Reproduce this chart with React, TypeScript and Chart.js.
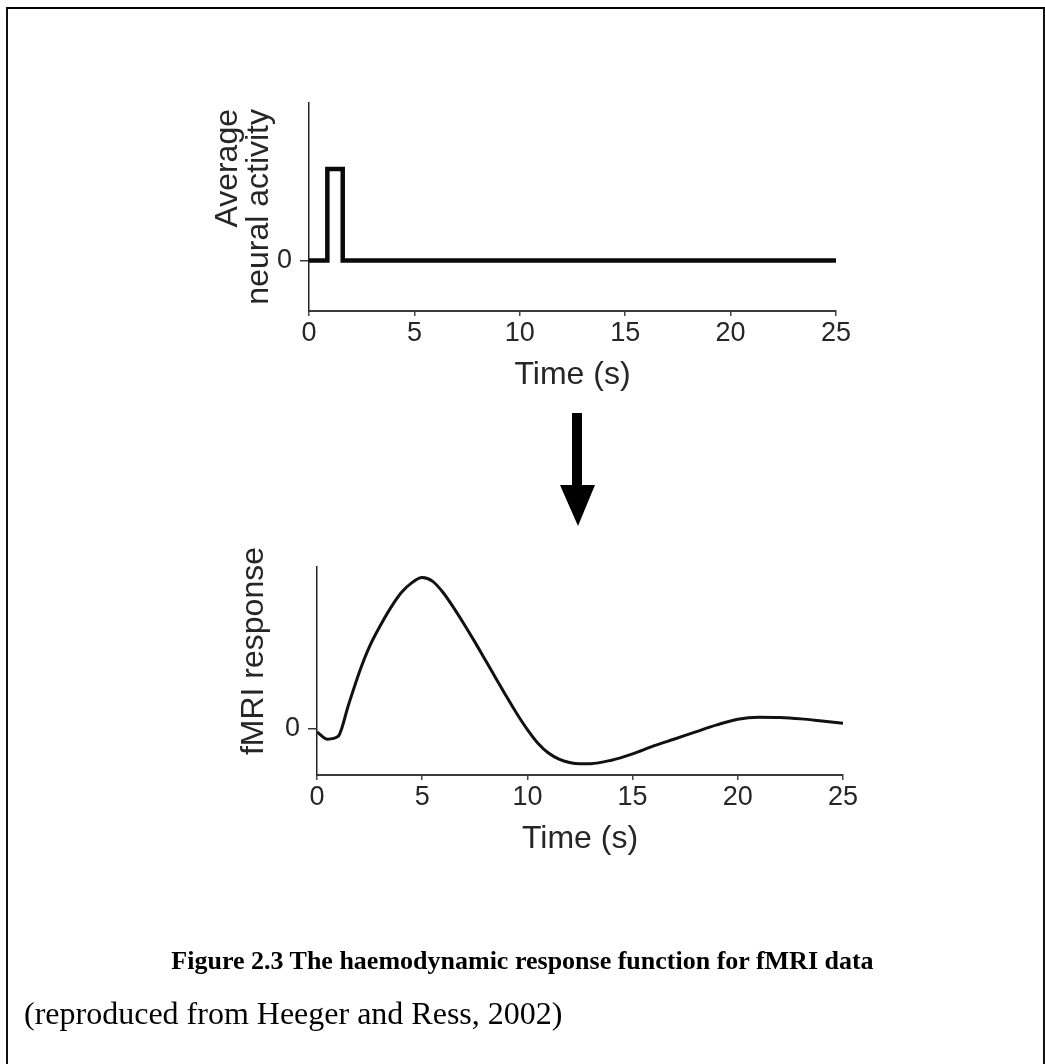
import React, { useEffect, useRef } from "react";
import { Chart, registerables } from "chart.js";

Chart.register(...registerables);

// ---------- data ----------
const timeTicks = [0, 5, 10, 15, 20, 25];
const zeroTick = [0];

// top panel: brief neural activity pulse (time in s, activity in arbitrary units)
const neuralTimes = [0, 0.87, 0.87, 1.6, 1.6, 25];
const neuralActivity = [0, 0, 1, 1, 0, 0];

// bottom panel: haemodynamic (fMRI) response, peak normalised to 1
const hrfTimes = [
  0, 0.5, 1.0, 1.5, 2.0, 2.5, 3.0, 3.5, 4.0, 4.5, 5.0, 5.5, 6.0, 6.5, 7.0, 7.5,
  8.0, 8.5, 9.0, 9.5, 10.0, 10.5, 11.0, 11.5, 12.0, 12.5, 13.0, 14.0, 15.0,
  16.0, 17.0, 18.0, 19.0, 20.0, 21.0, 22.0, 23.0, 24.0, 25.0,
];
const hrfValues = [
  -0.02, -0.068, -0.05, 0.16, 0.37, 0.545, 0.68, 0.8, 0.9, 0.965, 1.0, 0.975,
  0.9, 0.8, 0.69, 0.575, 0.455, 0.335, 0.215, 0.1, -0.005, -0.095, -0.16, -0.2,
  -0.222, -0.23, -0.23, -0.207, -0.165, -0.113, -0.067, -0.02, 0.026, 0.064,
  0.077, 0.075, 0.066, 0.052, 0.037,
];

const topYTitle = ["Average", "neural activity"];
const bottomYTitle = ["fMRI response"];
const xTitle = "Time (s)";
const captionText = "Figure 2.3 The haemodynamic response function for fMRI data";
const citationText = "(reproduced from Heeger and Ress, 2002)";

// ---------- styling ----------
const FONT = '"Liberation Sans", Arial, Helvetica, sans-serif';
const INK = "#262626";

type Area = { left: number; top: number; right: number; bottom: number };

function makeYTitlePlugin(lines: string[], baselines: number[], endOffset: number) {
  return {
    id: "yTitleRotated",
    afterDraw(chart: any) {
      const { ctx, chartArea } = chart;
      ctx.save();
      ctx.font = `32px ${FONT}`;
      ctx.fillStyle = INK;
      ctx.textAlign = "right";
      ctx.textBaseline = "alphabetic";
      lines.forEach((line, i) => {
        ctx.save();
        ctx.translate(baselines[i], chartArea.top + endOffset);
        ctx.rotate(-Math.PI / 2);
        ctx.fillText(line, 0, 0);
        ctx.restore();
      });
      ctx.restore();
    },
  };
}

function buildConfig(opts: {
  times: number[];
  values: number[];
  lineWidth: number;
  color: string;
  smooth: boolean;
  yMin: number;
  yMax: number;
  area: Area;
  width: number;
  height: number;
  titleCenterGap: number;
  plugin: any;
}) {
  const { area, width, height } = opts;
  const titleLine = 32 * 1.2;
  const titlePadBottom = height - (area.bottom + opts.titleCenterGap) - titleLine / 2;
  return {
    type: "line",
    data: {
      datasets: [
        {
          data: opts.times.map((t, i) => ({ x: t, y: opts.values[i] })),
          borderColor: opts.color,
          borderWidth: opts.lineWidth,
          pointRadius: 0,
          pointHoverRadius: 0,
          fill: false,
          tension: opts.smooth ? 0.4 : 0,
          cubicInterpolationMode: opts.smooth ? "monotone" : "default",
          borderJoinStyle: opts.smooth ? "round" : "miter",
          borderCapStyle: "butt",
        },
      ],
    },
    options: {
      responsive: false,
      animation: false,
      events: [],
      layout: {
        padding: { left: 0, top: area.top, right: width - area.right, bottom: 0 },
      },
      plugins: {
        legend: { display: false },
        tooltip: { enabled: false },
        title: { display: false },
      },
      scales: {
        x: {
          type: "linear",
          min: 0,
          max: 25,
          afterFit: (scale: any) => {
            scale.height = height - area.bottom;
          },
          afterBuildTicks: (scale: any) => {
            scale.ticks = timeTicks.map((v) => ({ value: v }));
          },
          grid: {
            drawOnChartArea: false,
            drawTicks: true,
            tickLength: 5,
            color: "#444",
            lineWidth: 1.5,
          },
          border: { display: true, color: "#3a3a3a", width: 2 },
          ticks: {
            padding: 1,
            color: INK,
            font: { family: FONT, size: 27 },
            maxRotation: 0,
            autoSkip: false,
          },
          title: {
            display: true,
            text: xTitle,
            color: INK,
            font: { family: FONT, size: 32 },
            padding: { top: 0, bottom: titlePadBottom },
          },
        },
        y: {
          type: "linear",
          min: opts.yMin,
          max: opts.yMax,
          afterFit: (scale: any) => {
            scale.width = area.left;
          },
          afterBuildTicks: (scale: any) => {
            scale.ticks = zeroTick.map((v) => ({ value: v }));
          },
          grid: {
            drawOnChartArea: false,
            drawTicks: true,
            tickLength: 9,
            color: "#333",
            lineWidth: 1.5,
          },
          border: { display: true, color: "#222", width: 1.5 },
          ticks: {
            padding: 8,
            color: INK,
            font: { family: FONT, size: 27 },
            autoSkip: false,
          },
          title: { display: false },
        },
      },
    },
    plugins: [opts.plugin],
  };
}

function Panel(props: { top: number; height: number; config: any }) {
  const ref = useRef<HTMLCanvasElement | null>(null);
  useEffect(() => {
    if (!ref.current) return;
    const chart = new Chart(ref.current, props.config);
    return () => chart.destroy();
  }, []);
  return (
    <canvas
      ref={ref}
      width={1045}
      height={props.height}
      style={{
        position: "absolute",
        left: 0,
        top: props.top,
        width: 1045,
        height: props.height,
      }}
    />
  );
}

export default function App() {
  const topCfg = buildConfig({
    times: neuralTimes,
    values: neuralActivity,
    lineWidth: 4.5,
    color: "#0a0a0a",
    smooth: false,
    yMin: -0.55,
    yMax: 1.72,
    area: { left: 309, top: 103, right: 836, bottom: 311 },
    width: 1045,
    height: 420,
    titleCenterGap: 64,
    plugin: makeYTitlePlugin(topYTitle, [237, 268], 6),
  });
  const bottomCfg = buildConfig({
    times: hrfTimes,
    values: hrfValues,
    lineWidth: 3,
    color: "#111",
    smooth: true,
    yMin: -0.305,
    yMax: 1.07,
    area: { left: 317, top: 97, right: 843, bottom: 305 },
    width: 1045,
    height: 450,
    titleCenterGap: 64,
    plugin: makeYTitlePlugin(bottomYTitle, [263], -20),
  });

  return (
    <div
      style={{
        position: "absolute",
        left: 0,
        top: 0,
        width: 1045,
        height: 1064,
        background: "#fff",
        overflow: "hidden",
      }}
    >
      <div
        style={{
          position: "absolute",
          left: 6,
          top: 7,
          width: 1039,
          height: 1057,
          boxSizing: "border-box",
          borderTop: "2px solid #000",
          borderLeft: "2px solid #111",
          borderRight: "2px solid #111",
        }}
      />
      <Panel top={0} height={420} config={topCfg} />
      <Panel top={470} height={450} config={bottomCfg} />
      <svg
        width={1045}
        height={1064}
        style={{ position: "absolute", left: 0, top: 0, pointerEvents: "none" }}
      >
        <rect x={572} y={413} width={10} height={74} fill="#000" />
        <polygon points="560,485 595,485 578,526" fill="#000" />
      </svg>
      <div
        style={{
          position: "absolute",
          left: 0,
          top: 946,
          width: 1045,
          textAlign: "center",
          fontFamily: '"Liberation Serif", "Times New Roman", serif',
          fontWeight: "bold",
          fontSize: 26,
          lineHeight: "30px",
          color: "#000",
          whiteSpace: "nowrap",
        }}
      >
        {captionText}
      </div>
      <div
        style={{
          position: "absolute",
          left: 24,
          top: 994,
          fontFamily: '"Liberation Serif", "Times New Roman", serif',
          fontSize: 32,
          lineHeight: "38px",
          color: "#000",
          whiteSpace: "nowrap",
        }}
      >
        {citationText}
      </div>
    </div>
  );
}
